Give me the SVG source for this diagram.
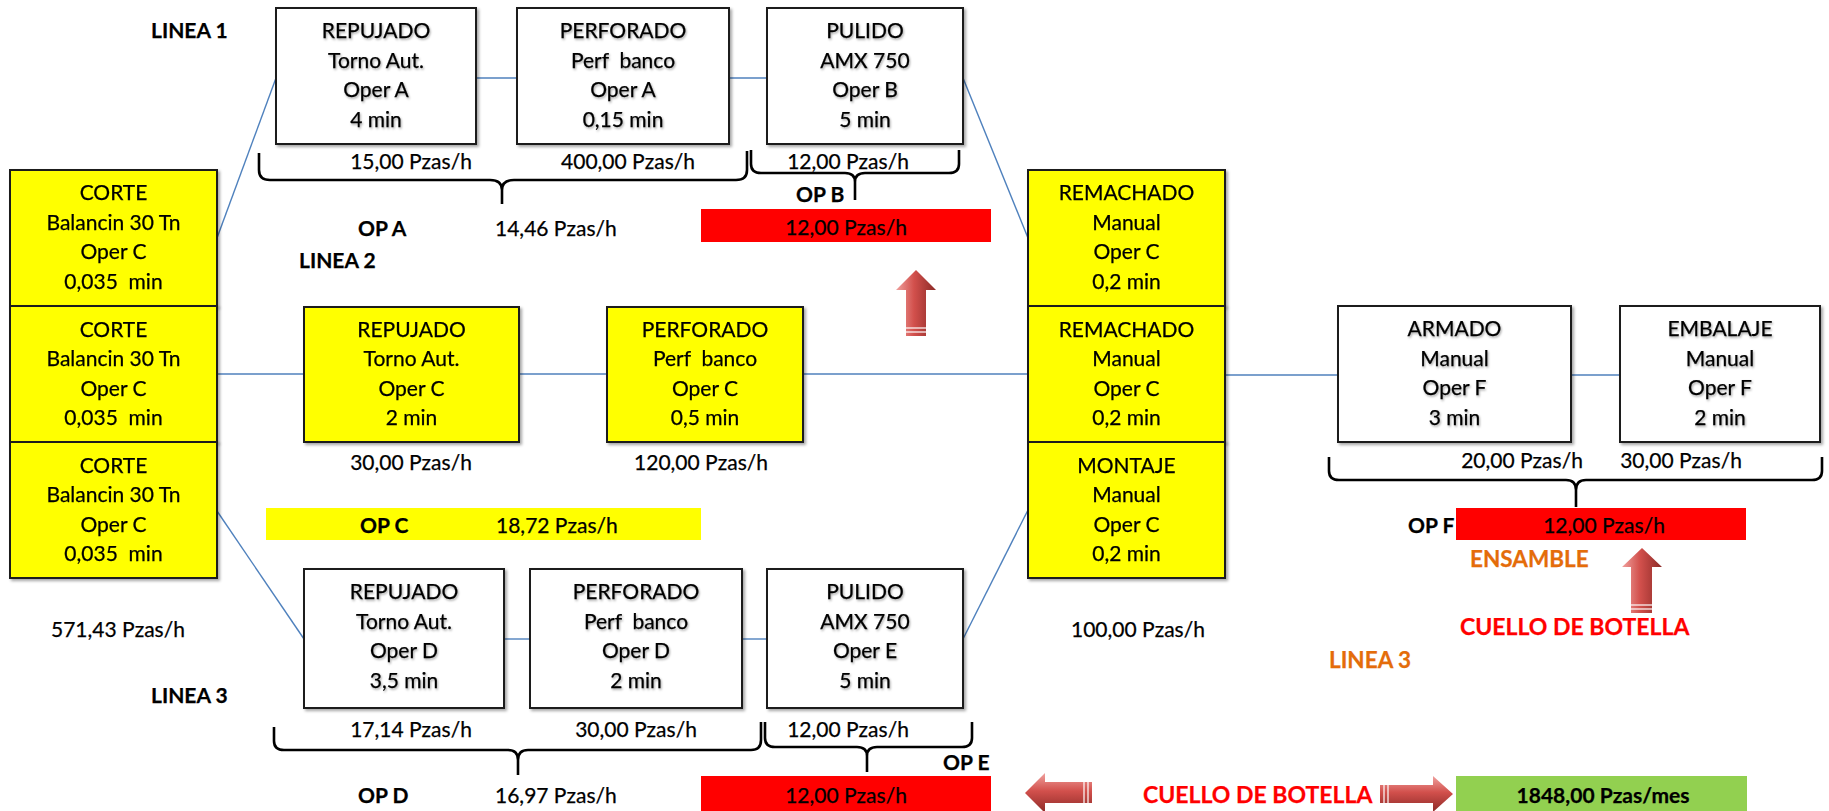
<svg xmlns="http://www.w3.org/2000/svg" width="1829" height="811" viewBox="0 0 1829 811">
  <defs>
    <style>
      .box{fill:#ffffff;stroke:#1a1a1a;stroke-width:2}
      .yel{fill:#ffff00;stroke:#1a1a1a;stroke-width:2}
      text{font-family:Lato,"Liberation Sans",sans-serif;font-size:21px;fill:#000;stroke:#000;stroke-width:0.25}
      .c{text-anchor:middle}
      .b{font-weight:bold}
      .red{fill:#ff0000;stroke:#ff0000;font-weight:bold;font-size:23px}
      .org{fill:#e46c0a;stroke:#e46c0a;font-weight:bold;font-size:22.5px}
      .conn{stroke:#4f81bd;stroke-width:1.4;fill:none}
      .brace{fill:none;stroke:#000;stroke-width:2.6;stroke-linejoin:round}
      .stripe{stroke:#ffffff;stroke-width:1.2}
    </style>
    <filter id="boxShadow" x="-10%" y="-10%" width="120%" height="125%">
      <feDropShadow dx="2" dy="2" stdDeviation="1.5" flood-color="#000" flood-opacity="0.35"/>
    </filter>
    <filter id="textShadow" x="-10%" y="-30%" width="120%" height="160%">
      <feDropShadow dx="1" dy="1.5" stdDeviation="1.2" flood-color="#000" flood-opacity="0.35"/>
    </filter>
    <linearGradient id="arrowV" x1="0" y1="0" x2="1" y2="0">
      <stop offset="0" stop-color="#f0a19e"/>
      <stop offset="0.45" stop-color="#d2504c"/>
      <stop offset="1" stop-color="#8c2a27"/>
    </linearGradient>
    <linearGradient id="arrowH" x1="0" y1="0" x2="0" y2="1">
      <stop offset="0" stop-color="#f0a19e"/>
      <stop offset="0.45" stop-color="#d2504c"/>
      <stop offset="1" stop-color="#8c2a27"/>
    </linearGradient>
  </defs>

  <rect width="1829" height="811" fill="#ffffff"/>

  <!-- connectors between workstations -->
  <g id="connectors">
    <line class="conn" x1="217" y1="238" x2="276" y2="78"/>
    <line class="conn" x1="476" y1="78" x2="517" y2="78"/>
    <line class="conn" x1="729" y1="78" x2="767" y2="78"/>
    <line class="conn" x1="963" y1="78" x2="1028" y2="238"/>
    <line class="conn" x1="217" y1="374" x2="304" y2="374"/>
    <line class="conn" x1="519" y1="374" x2="607" y2="374"/>
    <line class="conn" x1="803" y1="374" x2="1028" y2="374"/>
    <line class="conn" x1="217" y1="511" x2="304" y2="639"/>
    <line class="conn" x1="504" y1="639" x2="530" y2="639"/>
    <line class="conn" x1="742" y1="639" x2="767" y2="639"/>
    <line class="conn" x1="963" y1="639" x2="1028" y2="510"/>
    <line class="conn" x1="1225" y1="375" x2="1338" y2="375"/>
    <line class="conn" x1="1571" y1="375" x2="1620" y2="375"/>
  </g>

  <!-- highlighted bars -->
  <g id="bars">
    <rect x="701" y="209" width="290" height="33" fill="#ff0000"/>
    <rect x="266" y="508" width="435" height="32" fill="#ffff00"/>
    <rect x="1456" y="508" width="290" height="32" fill="#ff0000"/>
    <rect x="701" y="776" width="290" height="35" fill="#ff0000"/>
    <rect x="1456" y="776" width="291" height="35" fill="#92d050"/>
  </g>

  <!-- CORTE column -->
  <g id="corte1" filter="url(#boxShadow)">
    <rect class="yel" x="10" y="170" width="207" height="136"/>
    <text class="c" x="113.5" y="200">CORTE</text>
    <text class="c" x="113.5" y="230">Balancin 30 Tn</text>
    <text class="c" x="113.5" y="259">Oper C</text>
    <text class="c" x="113.5" y="289">0,035&#160; min</text>
  </g>
  <g id="corte2" filter="url(#boxShadow)">
    <rect class="yel" x="10" y="306" width="207" height="136"/>
    <text class="c" x="113.5" y="337">CORTE</text>
    <text class="c" x="113.5" y="366">Balancin 30 Tn</text>
    <text class="c" x="113.5" y="396">Oper C</text>
    <text class="c" x="113.5" y="425">0,035&#160; min</text>
  </g>
  <g id="corte3" filter="url(#boxShadow)">
    <rect class="yel" x="10" y="442" width="207" height="136"/>
    <text class="c" x="113.5" y="473">CORTE</text>
    <text class="c" x="113.5" y="502">Balancin 30 Tn</text>
    <text class="c" x="113.5" y="532">Oper C</text>
    <text class="c" x="113.5" y="561">0,035&#160; min</text>
  </g>

  <!-- Line 1 -->
  <g id="repujado1" filter="url(#boxShadow)">
    <rect class="box" x="276" y="8" width="200" height="136"/>
    <g filter="url(#textShadow)">
      <text class="c" x="376" y="38">REPUJADO</text>
      <text class="c" x="376" y="68">Torno Aut.</text>
      <text class="c" x="376" y="97">Oper A</text>
      <text class="c" x="376" y="127">4 min</text>
    </g>
  </g>
  <g id="perforado1" filter="url(#boxShadow)">
    <rect class="box" x="517" y="8" width="212" height="136"/>
    <g filter="url(#textShadow)">
      <text class="c" x="623" y="38">PERFORADO</text>
      <text class="c" x="623" y="68">Perf&#160; banco</text>
      <text class="c" x="623" y="97">Oper A</text>
      <text class="c" x="623" y="127">0,15 min</text>
    </g>
  </g>
  <g id="pulido1" filter="url(#boxShadow)">
    <rect class="box" x="767" y="8" width="196" height="136"/>
    <g filter="url(#textShadow)">
      <text class="c" x="865" y="38">PULIDO</text>
      <text class="c" x="865" y="68">AMX 750</text>
      <text class="c" x="865" y="97">Oper B</text>
      <text class="c" x="865" y="127">5 min</text>
    </g>
  </g>

  <!-- Line 2 -->
  <g id="repujado2" filter="url(#boxShadow)">
    <rect class="yel" x="304" y="307" width="215" height="135"/>
    <text class="c" x="411.5" y="337">REPUJADO</text>
    <text class="c" x="411.5" y="366">Torno Aut.</text>
    <text class="c" x="411.5" y="396">Oper C</text>
    <text class="c" x="411.5" y="425">2 min</text>
  </g>
  <g id="perforado2" filter="url(#boxShadow)">
    <rect class="yel" x="607" y="307" width="196" height="135"/>
    <text class="c" x="705" y="337">PERFORADO</text>
    <text class="c" x="705" y="366">Perf&#160; banco</text>
    <text class="c" x="705" y="396">Oper C</text>
    <text class="c" x="705" y="425">0,5 min</text>
  </g>

  <!-- Line 3 -->
  <g id="repujado3" filter="url(#boxShadow)">
    <rect class="box" x="304" y="569" width="200" height="139"/>
    <g filter="url(#textShadow)">
      <text class="c" x="404" y="599">REPUJADO</text>
      <text class="c" x="404" y="629">Torno Aut.</text>
      <text class="c" x="404" y="658">Oper D</text>
      <text class="c" x="404" y="688">3,5 min</text>
    </g>
  </g>
  <g id="perforado3" filter="url(#boxShadow)">
    <rect class="box" x="530" y="569" width="212" height="139"/>
    <g filter="url(#textShadow)">
      <text class="c" x="636" y="599">PERFORADO</text>
      <text class="c" x="636" y="629">Perf&#160; banco</text>
      <text class="c" x="636" y="658">Oper D</text>
      <text class="c" x="636" y="688">2 min</text>
    </g>
  </g>
  <g id="pulido3" filter="url(#boxShadow)">
    <rect class="box" x="767" y="569" width="196" height="139"/>
    <g filter="url(#textShadow)">
      <text class="c" x="865" y="599">PULIDO</text>
      <text class="c" x="865" y="629">AMX 750</text>
      <text class="c" x="865" y="658">Oper E</text>
      <text class="c" x="865" y="688">5 min</text>
    </g>
  </g>

  <!-- Riveting / assembly column -->
  <g id="remachado1" filter="url(#boxShadow)">
    <rect class="yel" x="1028" y="170" width="197" height="136"/>
    <text class="c" x="1126.5" y="200">REMACHADO</text>
    <text class="c" x="1126.5" y="230">Manual</text>
    <text class="c" x="1126.5" y="259">Oper C</text>
    <text class="c" x="1126.5" y="289">0,2 min</text>
  </g>
  <g id="remachado2" filter="url(#boxShadow)">
    <rect class="yel" x="1028" y="306" width="197" height="136"/>
    <text class="c" x="1126.5" y="337">REMACHADO</text>
    <text class="c" x="1126.5" y="366">Manual</text>
    <text class="c" x="1126.5" y="396">Oper C</text>
    <text class="c" x="1126.5" y="425">0,2 min</text>
  </g>
  <g id="montaje" filter="url(#boxShadow)">
    <rect class="yel" x="1028" y="442" width="197" height="136"/>
    <text class="c" x="1126.5" y="473">MONTAJE</text>
    <text class="c" x="1126.5" y="502">Manual</text>
    <text class="c" x="1126.5" y="532">Oper C</text>
    <text class="c" x="1126.5" y="561">0,2 min</text>
  </g>

  <!-- Final assembly -->
  <g id="armado" filter="url(#boxShadow)">
    <rect class="box" x="1338" y="306" width="233" height="136"/>
    <g filter="url(#textShadow)">
      <text class="c" x="1454.5" y="336">ARMADO</text>
      <text class="c" x="1454.5" y="366">Manual</text>
      <text class="c" x="1454.5" y="395">Oper F</text>
      <text class="c" x="1454.5" y="425">3 min</text>
    </g>
  </g>
  <g id="embalaje" filter="url(#boxShadow)">
    <rect class="box" x="1620" y="306" width="200" height="136"/>
    <g filter="url(#textShadow)">
      <text class="c" x="1720" y="336">EMBALAJE</text>
      <text class="c" x="1720" y="366">Manual</text>
      <text class="c" x="1720" y="395">Oper F</text>
      <text class="c" x="1720" y="425">2 min</text>
    </g>
  </g>

  <!-- grouping braces -->
  <g id="braces">
    <path class="brace" d="M259,153 L259,170 Q259,180 270,180 L490,180 Q502,180 502,190 L502,204 M502,190 Q502,180 514,180 L736,180 Q747,180 747,170 L747,151"/>
    <path class="brace" d="M751,150 L751,164 Q751,173 761,173 L845,173 Q855,173 855,182 L855,200 M855,182 Q855,173 865,173 L949,173 Q959,173 959,164 L959,150"/>
    <path class="brace" d="M274,727 L274,741 Q274,750 284,750 L508,750 Q518,750 518,760 L518,775 M518,760 Q518,750 528,750 L751,750 Q761,750 761,740 L761,722"/>
    <path class="brace" d="M765,722 L765,738 Q765,747 775,747 L857,747 Q867,747 867,756 L867,772 M867,756 Q867,747 877,747 L962,747 Q972,747 972,738 L972,722"/>
    <path class="brace" d="M1329,457 L1329,471 Q1329,480 1339,480 L1566,480 Q1576,480 1576,490 L1576,507 M1576,490 Q1576,480 1586,480 L1812,480 Q1822,480 1822,471 L1822,457"/>
  </g>

  <!-- bottleneck arrows -->
  <g id="arrows">
    <path fill="url(#arrowV)" d="M916,270 L936,290 L926,290 L926,336 L906,336 L906,290 L896,290 Z"/>
    <line class="stripe" x1="906" y1="328" x2="926" y2="328"/>
    <line class="stripe" x1="906" y1="332" x2="926" y2="332"/>
    <path fill="url(#arrowV)" d="M1642,548 L1662,567 L1652,567 L1652,613 L1631,613 L1631,567 L1622,567 Z"/>
    <line class="stripe" x1="1631" y1="605" x2="1652" y2="605"/>
    <line class="stripe" x1="1631" y1="609" x2="1652" y2="609"/>
    <path fill="url(#arrowH)" d="M1025,793 L1045,773 L1045,782 L1092,782 L1092,803 L1045,803 L1045,813 Z"/>
    <line class="stripe" x1="1084" y1="782" x2="1084" y2="803"/>
    <line class="stripe" x1="1088" y1="782" x2="1088" y2="803"/>
    <path fill="url(#arrowH)" d="M1453,794 L1433,776 L1433,785 L1380,785 L1380,803 L1433,803 L1433,812 Z"/>
    <line class="stripe" x1="1384" y1="785" x2="1384" y2="803"/>
    <line class="stripe" x1="1388" y1="785" x2="1388" y2="803"/>
  </g>

  <!-- labels -->
  <g id="labels">
    <text class="b" x="151" y="38">LINEA 1</text>
    <text class="b" x="299" y="268">LINEA 2</text>
    <text class="b" x="151" y="703">LINEA 3</text>

    <text class="c" x="411" y="169">15,00 Pzas/h</text>
    <text class="c" x="628" y="169">400,00 Pzas/h</text>
    <text class="c" x="848" y="169">12,00 Pzas/h</text>
    <text class="b" x="796" y="202">OP B</text>
    <text class="b" x="358" y="236">OP A</text>
    <text x="495" y="236">14,46 Pzas/h</text>
    <text class="c" x="846" y="235">12,00 Pzas/h</text>

    <text class="c" x="411" y="470">30,00 Pzas/h</text>
    <text class="c" x="701" y="470">120,00 Pzas/h</text>
    <text class="b" x="360" y="533">OP C</text>
    <text x="496" y="533">18,72 Pzas/h</text>

    <text x="51" y="637">571,43 Pzas/h</text>
    <text x="1071" y="637">100,00 Pzas/h</text>

    <text class="c" x="411" y="737">17,14 Pzas/h</text>
    <text class="c" x="636" y="737">30,00 Pzas/h</text>
    <text class="c" x="848" y="737">12,00 Pzas/h</text>
    <text class="b" x="943" y="770">OP E</text>
    <text class="b" x="358" y="803">OP D</text>
    <text x="495" y="803">16,97 Pzas/h</text>
    <text class="c" x="846" y="803">12,00 Pzas/h</text>

    <text class="c" x="1522" y="468">20,00 Pzas/h</text>
    <text class="c" x="1681" y="468">30,00 Pzas/h</text>
    <text class="b" x="1408" y="533">OP F</text>
    <text class="c" x="1604" y="533">12,00 Pzas/h</text>
    <text class="org" x="1470" y="567">ENSAMBLE</text>
    <text class="red" x="1460" y="635">CUELLO DE BOTELLA</text>
    <text class="org" x="1329" y="668">LINEA 3</text>
    <text class="red" x="1143" y="803">CUELLO DE BOTELLA</text>
    <text class="c b" x="1603" y="803">1848,00 Pzas/mes</text>
  </g>
</svg>
